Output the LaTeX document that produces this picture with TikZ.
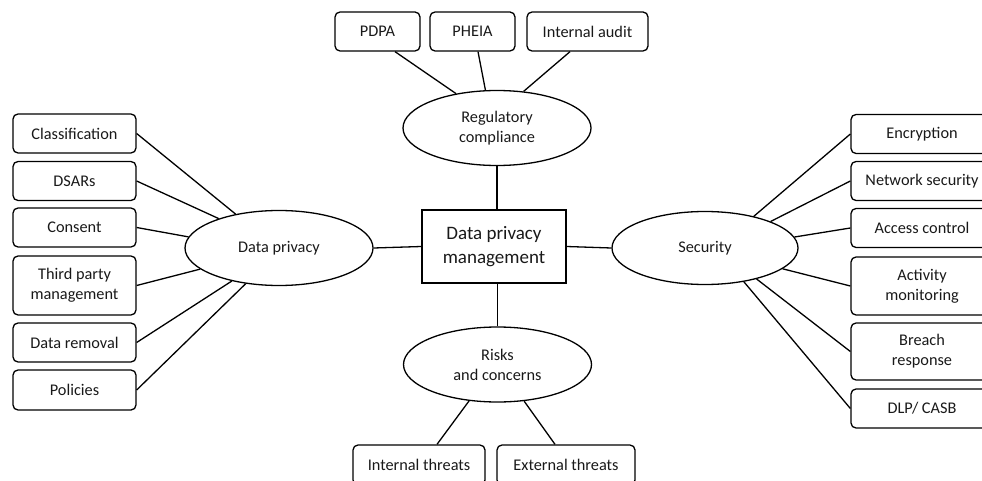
\documentclass[tikz,border=0pt]{standalone}
\usepackage{fontspec}
\setmainfont{Carlito}
\usetikzlibrary{shapes.geometric}

\begin{document}
\begin{tikzpicture}[x=1pt, y=-1pt, line width=1.3pt, leaf/.style = {draw, rounded corners=5pt, minimum height=39pt, inner sep=2pt, align=center, text=black!90, font=\fontsize{16.3}{20}\selectfont}, topic/.style = {draw, ellipse, minimum width=188pt, minimum height=75pt, inner sep=0pt, align=center, text=black!90, font=\fontsize{16.3}{20}\selectfont}, hub/.style = {draw, minimum width=144pt, minimum height=73pt, align=center, text=black!90, font=\fontsize{19}{24}\selectfont}]

    \clip (0,0) rectangle (982,481);

    % centre and topics
    \node[hub] (mgmt) at (494,246.5) {Data privacy\\management};
    \node[topic] (reg) at (497,128) {Regulatory\\compliance};
    \node[topic] (risk) at (497.5,364.5) {Risks\\and concerns};
    \node[topic] (dp) at (279,248) {Data privacy};
    \node[topic, minimum width=186pt, minimum height=73pt] (sec) at (705,248) {Security};

    % regulatory leaves
    \node[leaf, minimum width=85pt] (pdpa) at (377.5,31.5) {PDPA};
    \node[leaf, minimum width=85pt] (pheia) at (472.5,31.5) {PHEIA};
    \node[leaf, minimum width=121pt] (audit) at (587.5,31.5) {Internal audit};

    % privacy leaves
    \node[leaf, minimum width=123pt] (class) at (74.5,133.5) {Classification};
    \node[leaf, minimum width=123pt] (dsar) at (74.5,181) {DSARs};
    \node[leaf, minimum width=123pt] (consent) at (74.5,227.5) {Consent};
    \node[leaf, minimum width=123pt, minimum height=59pt] (third) at (74.5,285.5) {Third party\\management};
    \node[leaf, minimum width=123pt] (removal) at (74.5,342.5) {Data removal};
    \node[leaf, minimum width=123pt, minimum height=40pt] (policy) at (74.5,390) {Policies};

    % security leaves
    \node[leaf, minimum width=142pt] (encrypt) at (922,134) {Encryption};
    \node[leaf, minimum width=142pt] (network) at (922,181) {Network security};
    \node[leaf, minimum width=142pt] (access) at (922,228) {Access control};
    \node[leaf, minimum width=142pt, minimum height=58pt] (activity) at (922,286) {Activity\\monitoring};
    \node[leaf, minimum width=142pt, minimum height=57pt] (breach) at (922,351.5) {Breach\\response};
    \node[leaf, minimum width=142pt] (dlp) at (922,408.5) {DLP/ CASB};

    % risk leaves
    \node[leaf, minimum width=132pt, minimum height=40pt] (internal) at (419,465) {Internal threats};
    \node[leaf, minimum width=138pt, minimum height=40pt] (external) at (566,465) {External threats};

    % connectors
    \draw (reg.south) -- (reg.south |- mgmt.north);
    \draw (risk.north) -- (risk.north |- mgmt.south);
    \draw (mgmt.west) -- (dp.east);
    \draw (mgmt.east) -- (sec.west);

    \draw ([xshift=17.5pt]pdpa.south) -- (reg.140);
    \draw ([xshift=5.5pt]pheia.south) -- (reg.107);
    \draw ([xshift=-17.5pt]audit.south) -- (reg.54);

    \draw (class.east) -- (dp.142);
    \draw (dsar.east) -- (dp.154);
    \draw (consent.east) -- (dp.173);
    \draw (third.east) -- (dp.195);
    \draw (removal.east) -- (dp.215);
    \draw (policy.east) -- (dp.227);

    \draw (encrypt.west) -- (sec.33);
    \draw (network.west) -- (sec.22);
    \draw (access.west) -- (sec.7);
    \draw (activity.west) -- (sec.345);
    \draw (breach.west) -- (sec.329);
    \draw (dlp.west) -- (sec.319);

    \draw ([xshift=18pt]internal.north) -- (risk.232);
    \draw ([xshift=-11pt]external.north) -- (risk.306);

\end{tikzpicture}
\end{document}
